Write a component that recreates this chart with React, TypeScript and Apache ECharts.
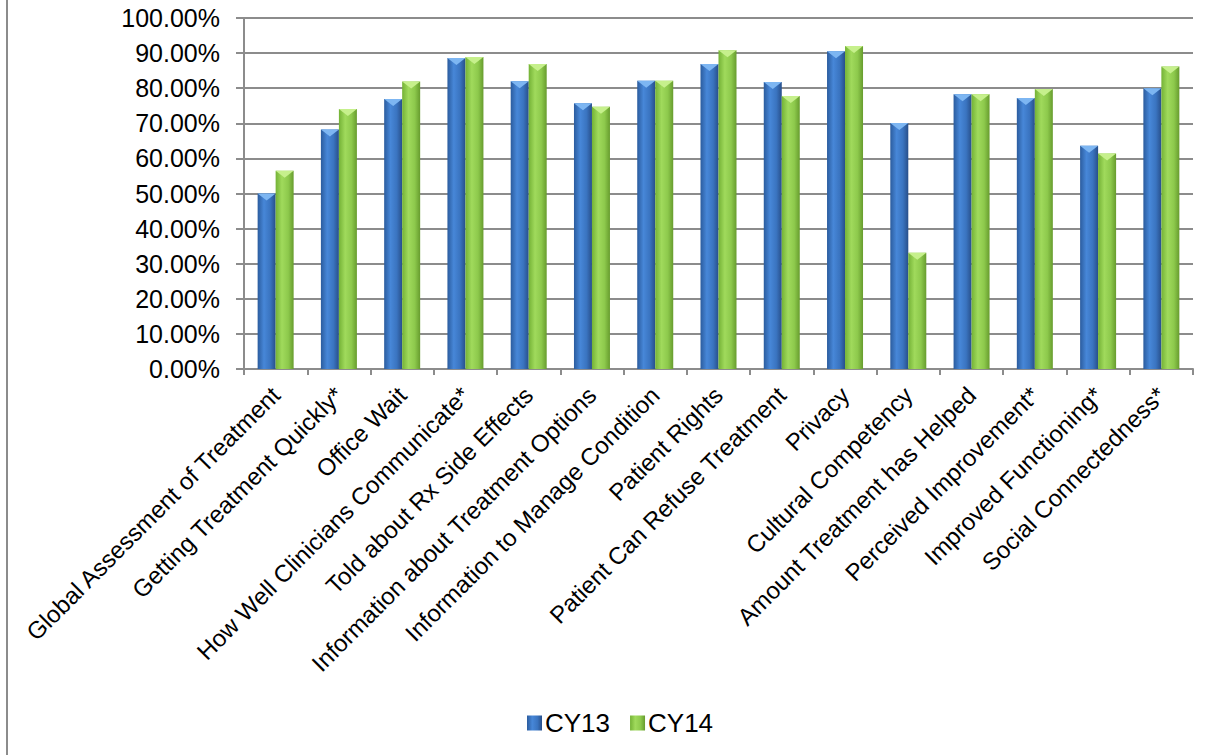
import React, { useEffect, useRef } from "react";
import * as echarts from "echarts";

const categories = [
  "Global Assessment of Treatment",
  "Getting Treatment Quickly*",
  "Office Wait",
  "How Well Clinicians Communicate*",
  "Told about Rx Side Effects",
  "Information about Treatment Options",
  "Information to Manage Condition",
  "Patient Rights",
  "Patient Can Refuse Treatment",
  "Privacy",
  "Cultural Competency",
  "Amount Treatment has Helped",
  "Perceived Improvement*",
  "Improved Functioning*",
  "Social Connectedness*",
];

const cy13 = [50.0, 68.2, 76.9, 88.6, 82.0, 75.7, 82.1, 86.9, 81.8, 90.5, 70.1, 78.3, 77.2, 63.6, 80.0];
const cy14 = [56.5, 74.1, 81.9, 88.9, 86.9, 74.7, 82.1, 90.8, 77.8, 92.0, 33.1, 78.3, 79.8, 61.4, 86.2];

const seriesNames = ["CY13", "CY14"];

const blueGrad = new echarts.graphic.LinearGradient(0, 0, 1, 0, [
  { offset: 0, color: "#2b5c9e" },
  { offset: 0.35, color: "#4787d8" },
  { offset: 0.7, color: "#3a74c0" },
  { offset: 1, color: "#284f8a" },
]);
const greenGrad = new echarts.graphic.LinearGradient(0, 0, 1, 0, [
  { offset: 0, color: "#74b236" },
  { offset: 0.35, color: "#a0da5c" },
  { offset: 0.7, color: "#8dc94c" },
  { offset: 1, color: "#679c2e" },
]);

function capSeries(name: string, values: number[], offset: number, color: string) {
  return {
    name,
    type: "custom",
    data: values.map((v, i) => [i, v]),
    encode: { x: 0, y: 1 },
    silent: true,
    z: 5,
    renderItem: (params: any, api: any) => {
      const p = api.coord([api.value(0), api.value(1)]);
      const cx = p[0] + offset;
      const w = 18;
      const h = 7;
      return {
        type: "polygon",
        shape: {
          points: [
            [cx - w / 2, p[1]],
            [cx + w / 2, p[1]],
            [cx, p[1] + h],
          ],
        },
        style: { fill: color },
      };
    },
  };
}

export default function App() {
  const ref = useRef<HTMLDivElement>(null);
  useEffect(() => {
    document.body.style.margin = "0";
    const chart = echarts.init(ref.current!, null, { renderer: "svg" });
    const font = "Liberation Sans, Arial, sans-serif";
    chart.setOption({
      animation: false,
      backgroundColor: "#ffffff",
      grid: { left: 244, right: 24, top: 18, bottom: 386, containLabel: false },
      legend: {
        left: 522,
        top: 705,
        itemWidth: 15,
        itemHeight: 15,
        itemGap: 20,
        icon: "rect",
        textStyle: { fontFamily: font, fontSize: 26, color: "#000", padding: [0, 0, 0, -2] },
        data: seriesNames,
      },
      xAxis: {
        type: "category",
        data: categories,
        axisLine: { lineStyle: { color: "#8c8c8c", width: 2 } },
        axisTick: { show: true, length: 6, lineStyle: { color: "#8c8c8c", width: 2 } },
        axisLabel: {
          interval: 0,
          rotate: 45,
          margin: 22,
          fontFamily: font,
          fontSize: 24,
          color: "#000",
        },
      },
      yAxis: {
        type: "value",
        min: 0,
        max: 100,
        interval: 10,
        axisLine: { show: true, lineStyle: { color: "#8c8c8c", width: 2 } },
        axisTick: { show: true, length: 8, lineStyle: { color: "#8c8c8c", width: 2 } },
        splitLine: { lineStyle: { color: "#8c8c8c", width: 2 } },
        axisLabel: {
          margin: 24,
          fontFamily: font,
          fontSize: 25,
          color: "#000",
          formatter: (v: number) => v.toFixed(2) + "%",
        },
      },
      series: [
        {
          name: seriesNames[0],
          type: "bar",
          data: cy13,
          barWidth: 18,
          barGap: "0%",
          itemStyle: { color: blueGrad },
        },
        {
          name: seriesNames[1],
          type: "bar",
          data: cy14,
          barWidth: 18,
          barGap: "0%",
          itemStyle: { color: greenGrad },
        },
        capSeries("cap13", cy13, -9, "#7db6f2"),
        capSeries("cap14", cy14, 9, "#c6f08c"),
      ],
      graphic: [
        {
          type: "line",
          shape: { x1: 7, y1: 0, x2: 7, y2: 755 },
          style: { stroke: "#8c8c8c", lineWidth: 2 },
        },
      ],
    });
    return () => chart.dispose();
  }, []);
  return <div ref={ref} style={{ width: 1217, height: 755 }} />;
}
